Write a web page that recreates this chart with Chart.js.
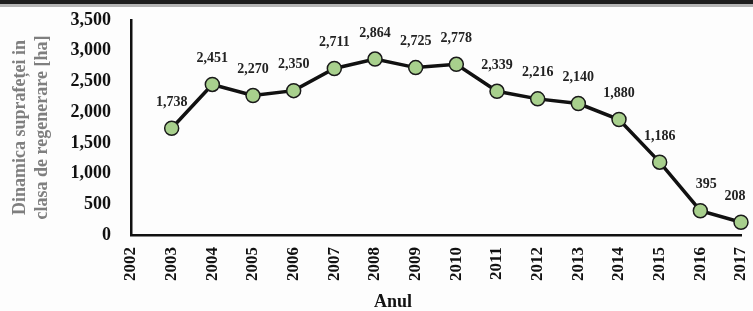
<!DOCTYPE html>
<html>
<head>
<meta charset="utf-8">
<script src="https://cdn.jsdelivr.net/npm/chart.js@4"></script>
<style>
  html, body { margin: 0; padding: 0; background: #fdfdfd; }
  #topbar { position: absolute; left: 0; top: 0; width: 753px; height: 4px; background: #1e1e1e; }
  #topbar2 { position: absolute; left: 0; top: 4px; width: 753px; height: 3px; background: #b5b5b5; }
  #wrap { position: absolute; left: 0; top: 0; width: 753px; height: 311px; }
</style>
</head>
<body>
<div id="wrap"><canvas id="myChart" width="753" height="311"></canvas></div>
<div id="topbar"></div>
<div id="topbar2"></div>
<script>
const years = ["2002", "2003", "2004", "2005", "2006", "2007", "2008", "2009", "2010", "2011", "2012", "2013", "2014", "2015", "2016", "2017"];
const area = [null, 1738, 2451, 2270, 2350, 2711, 2864, 2725, 2778, 2339, 2216, 2140, 1880, 1186, 395, 208];
const yTicks = [0, 500, 1000, 1500, 2000, 2500, 3000, 3500];

const serif = "'Liberation Serif', 'DejaVu Serif', serif";
const ctx = document.getElementById("myChart");

// value labels above the points
const valueLabels = {
  id: "valueLabels",
  afterDatasetsDraw(chart) {
    const c = chart.ctx;
    const meta = chart.getDatasetMeta(0);
    c.save();
    c.font = "bold 14px " + serif;
    c.fillStyle = "#222";
    c.textAlign = "center";
    c.textBaseline = "middle";
    meta.data.forEach((pt, i) => {
      const v = area[i];
      if (v == null) return;
      let dx = 0;
      if (i === area.length - 1) dx = -6;
      if (i === area.length - 2) dx = 6;
      c.fillText(v.toLocaleString("en-US"), pt.x + dx, pt.y - 26);
    });
    c.restore();
  },
};

// x axis title
const xTitle = {
  id: "xTitle",
  afterDraw(chart) {
    const c = chart.ctx;
    c.save();
    c.font = "bold 18px " + serif;
    c.fillStyle = "#111";
    c.textAlign = "center";
    c.textBaseline = "middle";
    c.fillText("Anul", 393, 302);
    c.restore();
  },
};

new Chart(ctx, {
  type: "line",
  data: {
    labels: years,
    datasets: [
      {
        data: area,
        borderColor: "#111",
        borderWidth: 3.5,
        pointRadius: 7,
        pointBackgroundColor: "#a8d08d",
        pointBorderColor: "#1a1a1a",
        pointBorderWidth: 1.5,
        tension: 0,
        spanGaps: false,
      },
    ],
  },
  options: {
    responsive: false,
    animation: false,
    layout: { padding: { left: 10, right: 12, top: 20, bottom: 0 } },
    plugins: { legend: { display: false }, tooltip: { enabled: false } },
    scales: {
      x: {
        offset: false,
        grid: { display: false, drawTicks: false },
        border: { color: "#111", width: 2.5 },
        ticks: {
          minRotation: 90,
          maxRotation: 90,
          padding: 12,
          color: "#111",
          font: { family: serif, size: 17, weight: "bold" },
        },
        afterFit(scale) {
          scale.height = 76;
          scale.paddingLeft = 0;
          scale.paddingRight = 0;
        },
      },
      y: {
        min: 0,
        max: 3500,
        afterBuildTicks(scale) { scale.ticks = yTicks.map((v) => ({ value: v })); },
        grid: { display: false, drawTicks: false },
        border: { color: "#111", width: 2.5 },
        ticks: {
          padding: 20,
          color: "#111",
          font: { family: serif, size: 18, weight: "bold" },
          callback: (v) => v.toLocaleString("en-US"),
        },
        title: {
          display: true,
          text: ["Dinamica suprafeței in", "clasa de regenerare [ha]"],
          color: "#7f7f7f",
          font: { family: serif, size: 18, weight: "bold", lineHeight: 1.2 },
          padding: 0,
        },
        afterFit(scale) {
          scale.width = 121;
          scale.paddingTop = 0;
          scale.paddingBottom = 0;
        },
      },
    },
  },
  plugins: [valueLabels, xTitle],
});
</script>
</body>
</html>
